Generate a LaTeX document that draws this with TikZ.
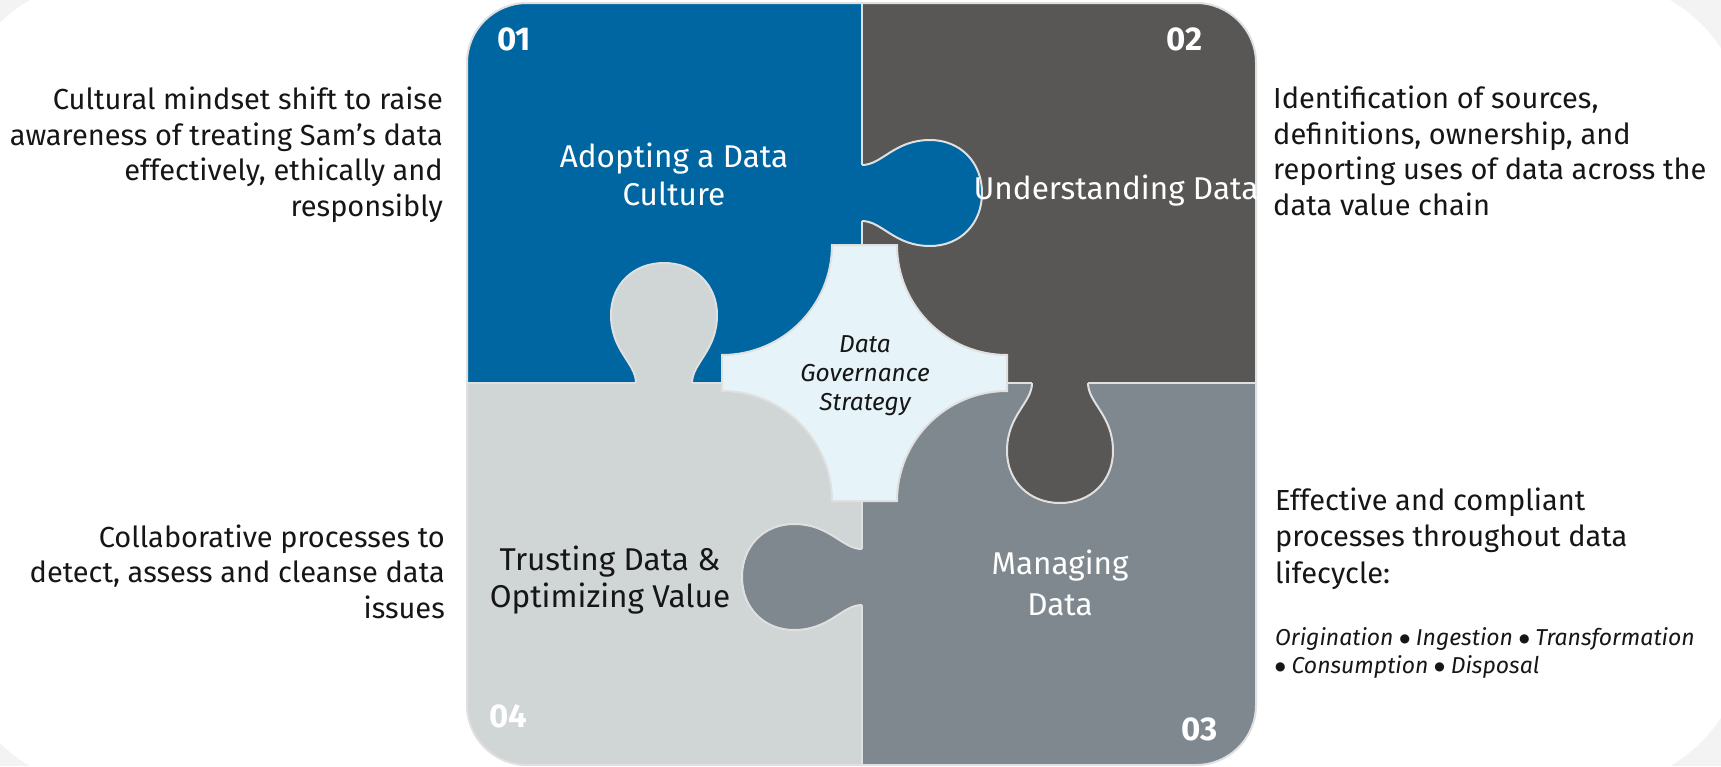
\documentclass[tikz,border=0pt]{standalone}
\usepackage{fontspec}
\setmainfont{Fira Sans}
\newfontfamily\dvfont{DejaVu Sans}
\definecolor{pblue}{HTML}{0066A1}
\definecolor{pdark}{HTML}{595756}
\definecolor{pmid}{HTML}{7E888E}
\definecolor{plight}{HTML}{D0D5D6}
\definecolor{pcenter}{HTML}{E6F3F8}
\definecolor{pedge}{HTML}{E0E0E0}
\definecolor{ink}{HTML}{161616}
\definecolor{bgout}{HTML}{F3F3F3}
\newcommand\bigdot{\raisebox{2.5pt}{\dvfont\fontsize{12}{12}\selectfont ●}}
\tikzset{
  edge/.style={draw=pedge, line width=2pt},
  tab/.pic={
    \fill[#1] (-4,-28) -- (0,-28) .. controls (20,-28) and (32,-53) .. (68,-53)
      .. controls (98,-53) and (120,-31) .. (120,0)
      .. controls (120,31) and (98,53) .. (68,53)
      .. controls (32,53) and (20,28) .. (0,28) -- (-4,28) -- cycle;
    \draw[edge] (0,-28) .. controls (20,-28) and (32,-53) .. (68,-53)
      .. controls (98,-53) and (120,-31) .. (120,0)
      .. controls (120,31) and (98,53) .. (68,53)
      .. controls (32,53) and (20,28) .. (0,28);
  },
  side/.style={inner sep=0pt, text=ink, font=\fontsize{29}{35.5}\selectfont},
  label/.style={inner sep=0pt, align=center, font=\fontsize{31.5}{38}\selectfont},
  num/.style={inner sep=0pt, text=white, font=\bfseries\fontsize{33}{36}\selectfont},
}
\begin{document}
\begin{tikzpicture}[x=1pt, y=-1pt]
\useasboundingbox (0,0) rectangle (1721,766);
% page background
\fill[bgout] (0,0) rectangle (1721,766);
\fill[white, rounded corners=150pt] (-45,-20) rectangle (1745,786);
% quadrants
\begin{scope}
  \clip[rounded corners=60pt] (467,3) rectangle (1256,765);
  \fill[pblue] (467,3) rectangle (862,383);
  \fill[pdark] (862,3) rectangle (1256,383);
  \fill[plight] (467,383) rectangle (862,765);
  \fill[pmid] (862,383) rectangle (1256,765);
\end{scope}
\draw[edge] (862,3) -- (862,765);
\draw[edge] (467,383) -- (1256,383);
% tabs
\pic at (862,193) {tab=pblue};
\pic[rotate=90] at (664,383) {tab=plight};
\pic[rotate=-90] at (1060,383) {tab=pdark};
\pic[rotate=180] at (862,577) {tab=pmid};
% centre piece
\filldraw[fill=pcenter, draw=pedge, line width=2pt]
  (832,245) -- (897,245)
  .. controls (897,305.75) and (946.25,355) .. (1007,355)
  -- (1007,391)
  .. controls (946.25,391) and (897,440.25) .. (897,501)
  -- (832,501)
  .. controls (832,440.25) and (782.75,391) .. (722,391)
  -- (722,355)
  .. controls (782.75,355) and (832,305.75) .. (832,245) -- cycle;
% outer outline
\draw[edge] [rounded corners=60pt] (467,3) rectangle (1256,765);
% numbers
\node[num, anchor=base west] (n1) at (497,50) {01};
\node[num, anchor=base east] (n2) at (1203,50) {02};
\node[num, anchor=base east] (n3) at (1218,740) {03};
\node[num, anchor=base west] (n4) at (489,727) {04};
% piece labels (anchor = baseline of last line)
\node[label, text=white, anchor=base] (l1) at (674,205) {Adopting a Data\\Culture};
\node[label, text=white, anchor=base] (l2) at (1116,199) {Understanding Data};
\node[label, text=ink, anchor=base, font=\fontsize{31.5}{37}\selectfont] (l4) at (610,607) {Trusting Data \&\\Optimizing Value};
\node[label, text=white, anchor=base, font=\fontsize{31.5}{41}\selectfont] (l3) at (1060,615) {Managing\\Data};
\node[inner sep=0pt, align=center, text=ink, anchor=base, font=\itshape\fontsize{24.5}{29}\selectfont] (ctr) at (865,410) {Data\\Governance\\Strategy};
% side texts
\node[side, align=right, anchor=base east] (d1) at (443,216) {Cultural mindset shift to raise\\awareness of treating Sam’s data\\effectively, ethically and\\responsibly};
\node[side, align=right, anchor=base east] (d4) at (445,618) {Collaborative processes to\\detect, assess and cleanse data\\issues};
\node[side, align=left, anchor=base west] (d2) at (1273,215) {Identification of sources,\\definitions, ownership, and\\reporting uses of data across the\\data value chain};
\node[side, align=left, anchor=base west, font=\fontsize{29}{36.5}\selectfont] (d3) at (1275,583) {Effective and compliant\\processes throughout data\\lifecycle:};
\node[inner sep=0pt, align=left, anchor=base west, text=ink, font=\itshape\fontsize{23}{28}\selectfont] (d3b) at (1275,673) {Origination \bigdot{} Ingestion \bigdot{} Transformation\\\bigdot{} Consumption \bigdot{} Disposal};
\end{tikzpicture}
\end{document}
